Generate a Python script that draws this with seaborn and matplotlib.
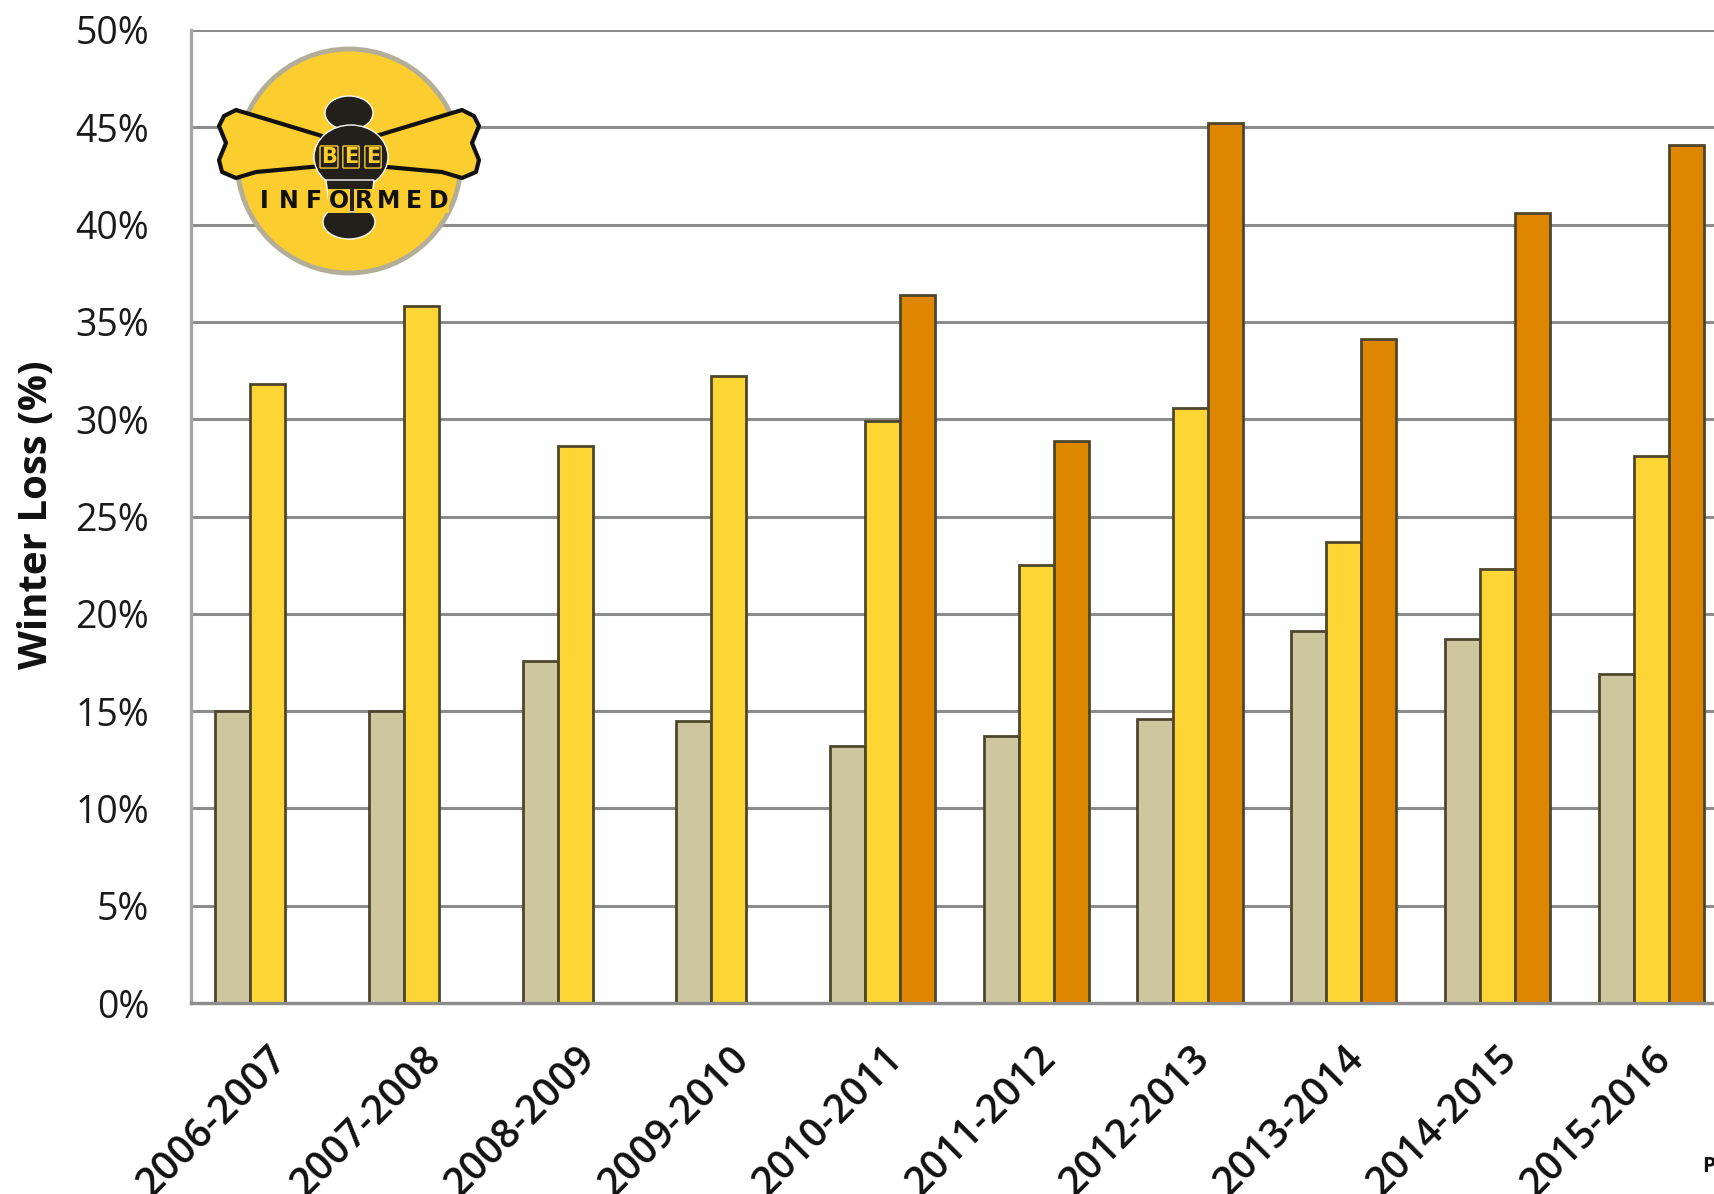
import numpy as np
import pandas as pd
import matplotlib
matplotlib.use("Agg")
import matplotlib.pyplot as plt
import seaborn as sns
from matplotlib.patches import Circle, Ellipse, Polygon

# Data (percent)
seasons = ["2006-2007", "2007-2008", "2008-2009", "2009-2010", "2010-2011",
           "2011-2012", "2012-2013", "2013-2014", "2014-2015", "2015-2016"]
acceptable_loss = [15.0, 15.0, 17.6, 14.5, 13.2, 13.7, 14.6, 19.1, 18.7, 16.9]
winter_loss = [31.8, 35.8, 28.6, 32.2, 29.9, 22.5, 30.6, 23.7, 22.3, 28.1]
annual_loss = [np.nan, np.nan, np.nan, np.nan, 36.4, 28.9, 45.2, 34.1, 40.6, 44.1]
series_names = ["Acceptable Loss", "Total Winter Loss", "Total Annual Loss"]
series_colors = ["#CEC69E", "#FDD535", "#DF8600"]
y_ticks = [0, 5, 10, 15, 20, 25, 30, 35, 40, 45, 50]

df = pd.DataFrame({
    "Season": seasons * 3,
    "Series": [series_names[0]] * 10 + [series_names[1]] * 10 + [series_names[2]] * 10,
    "Loss": acceptable_loss + winter_loss + annual_loss,
}).dropna()

sns.set_theme(style="white")
plt.rcParams["font.family"] = ["Open Sans", "DejaVu Sans"]

W, H = 1715, 1194
fig = plt.figure(figsize=(W / 100, H / 100), dpi=100)
fig.patch.set_facecolor("white")

# plot area runs a little past the right edge (the source image is cropped)
ax_l, ax_r, ax_t, ax_b = 191, 1728, 30, 1003
ax = fig.add_axes([ax_l / W, (H - ax_b) / H, (ax_r - ax_l) / W, (ax_b - ax_t) / H])

sns.barplot(data=df, x="Season", y="Loss", hue="Series", order=seasons,
            hue_order=series_names, palette=series_colors, saturation=1, width=0.685,
            errorbar=None, edgecolor="#4d472c", linewidth=2.0, legend=False, ax=ax)

ax.set_xlim(-0.5, 9.5)
ax.set_ylim(0, 50)
ax.set_yticks(y_ticks)
ax.set_yticklabels([f"{v}%" for v in y_ticks], fontsize=27, color="#1a1a1a")
ax.yaxis.grid(True, color="#8c8c8c", linewidth=2.2)
ax.set_axisbelow(True)
ax.tick_params(axis="y", length=0, pad=30)
ax.tick_params(axis="x", length=0, pad=26)
ax.set_xticks(range(len(seasons)))
ax.set_xticklabels(seasons, rotation=45, ha="right", rotation_mode="anchor",
                   fontsize=28.5, fontweight="semibold", color="#111111")
for lbl in ax.get_xticklabels():
    lbl.set_x(lbl.get_position()[0] - 0.1)
ax.set_xlabel("")
ax.set_ylabel("")

for side in ["top", "right"]:
    ax.spines[side].set_visible(False)
ax.spines["left"].set_color("#a6a6a6")
ax.spines["left"].set_linewidth(2.4)
ax.spines["bottom"].set_color("#8c8c8c")
ax.spines["bottom"].set_linewidth(2.4)

fig.text(37 / W, 1 - 515 / H, "Winter Loss (%)", rotation=90, ha="center", va="center",
         fontsize=29, fontweight="bold", color="#111111")

# overlay in pixel coordinates for the logo and the cropped corner text
ov = fig.add_axes([0, 0, 1, 1], zorder=5)
ov.set_xlim(0, W)
ov.set_ylim(H, 0)
ov.axis("off")

logo_yellow = "#FCCD2E"
body = "#231f1a"
ov.add_patch(Circle((349, 161), 112, facecolor=logo_yellow, edgecolor="#b3ae98", linewidth=3.5))
left_wing = [(224, 116), (236, 110), (256, 116), (322, 136), (322, 166), (256, 172),
             (236, 178), (222, 172), (219, 160), (226, 143), (219, 126)]
right_wing = [(698 - x, y) for x, y in left_wing]
for wing in [left_wing, right_wing]:
    ov.add_patch(Polygon(wing, closed=True, facecolor=logo_yellow, edgecolor="#111111",
                         linewidth=3, joinstyle="round"))
ov.add_patch(Ellipse((349, 113), 48, 34, facecolor=body))
ov.add_patch(Ellipse((351, 157), 74, 64, facecolor=body))
ov.add_patch(Ellipse((349, 222), 52, 34, facecolor=body))
ov.add_patch(Polygon([(326, 180), (374, 180), (370, 212), (330, 212)], facecolor=body))
for i, ch in enumerate("BEE"):
    ov.text(329 + i * 22, 157, ch, ha="center", va="center", fontsize=15, fontweight="bold",
            color=logo_yellow, family=["DejaVu Sans"],
            bbox=dict(boxstyle="round,pad=0.05", facecolor=body, edgecolor=logo_yellow, linewidth=1))
for i, ch in enumerate("INFORMED"):
    ov.text(264 + i * 25, 201, ch, ha="center", va="center", fontsize=17, fontweight="bold",
            color="#111111", family=["DejaVu Sans"],
            bbox=dict(boxstyle="square,pad=0.02", facecolor=logo_yellow, edgecolor="none"))

ov.text(1702, 1166, "P", ha="left", va="center", fontsize=15, fontweight="bold", color="#111111")

fig.savefig("out.png", dpi=100)
